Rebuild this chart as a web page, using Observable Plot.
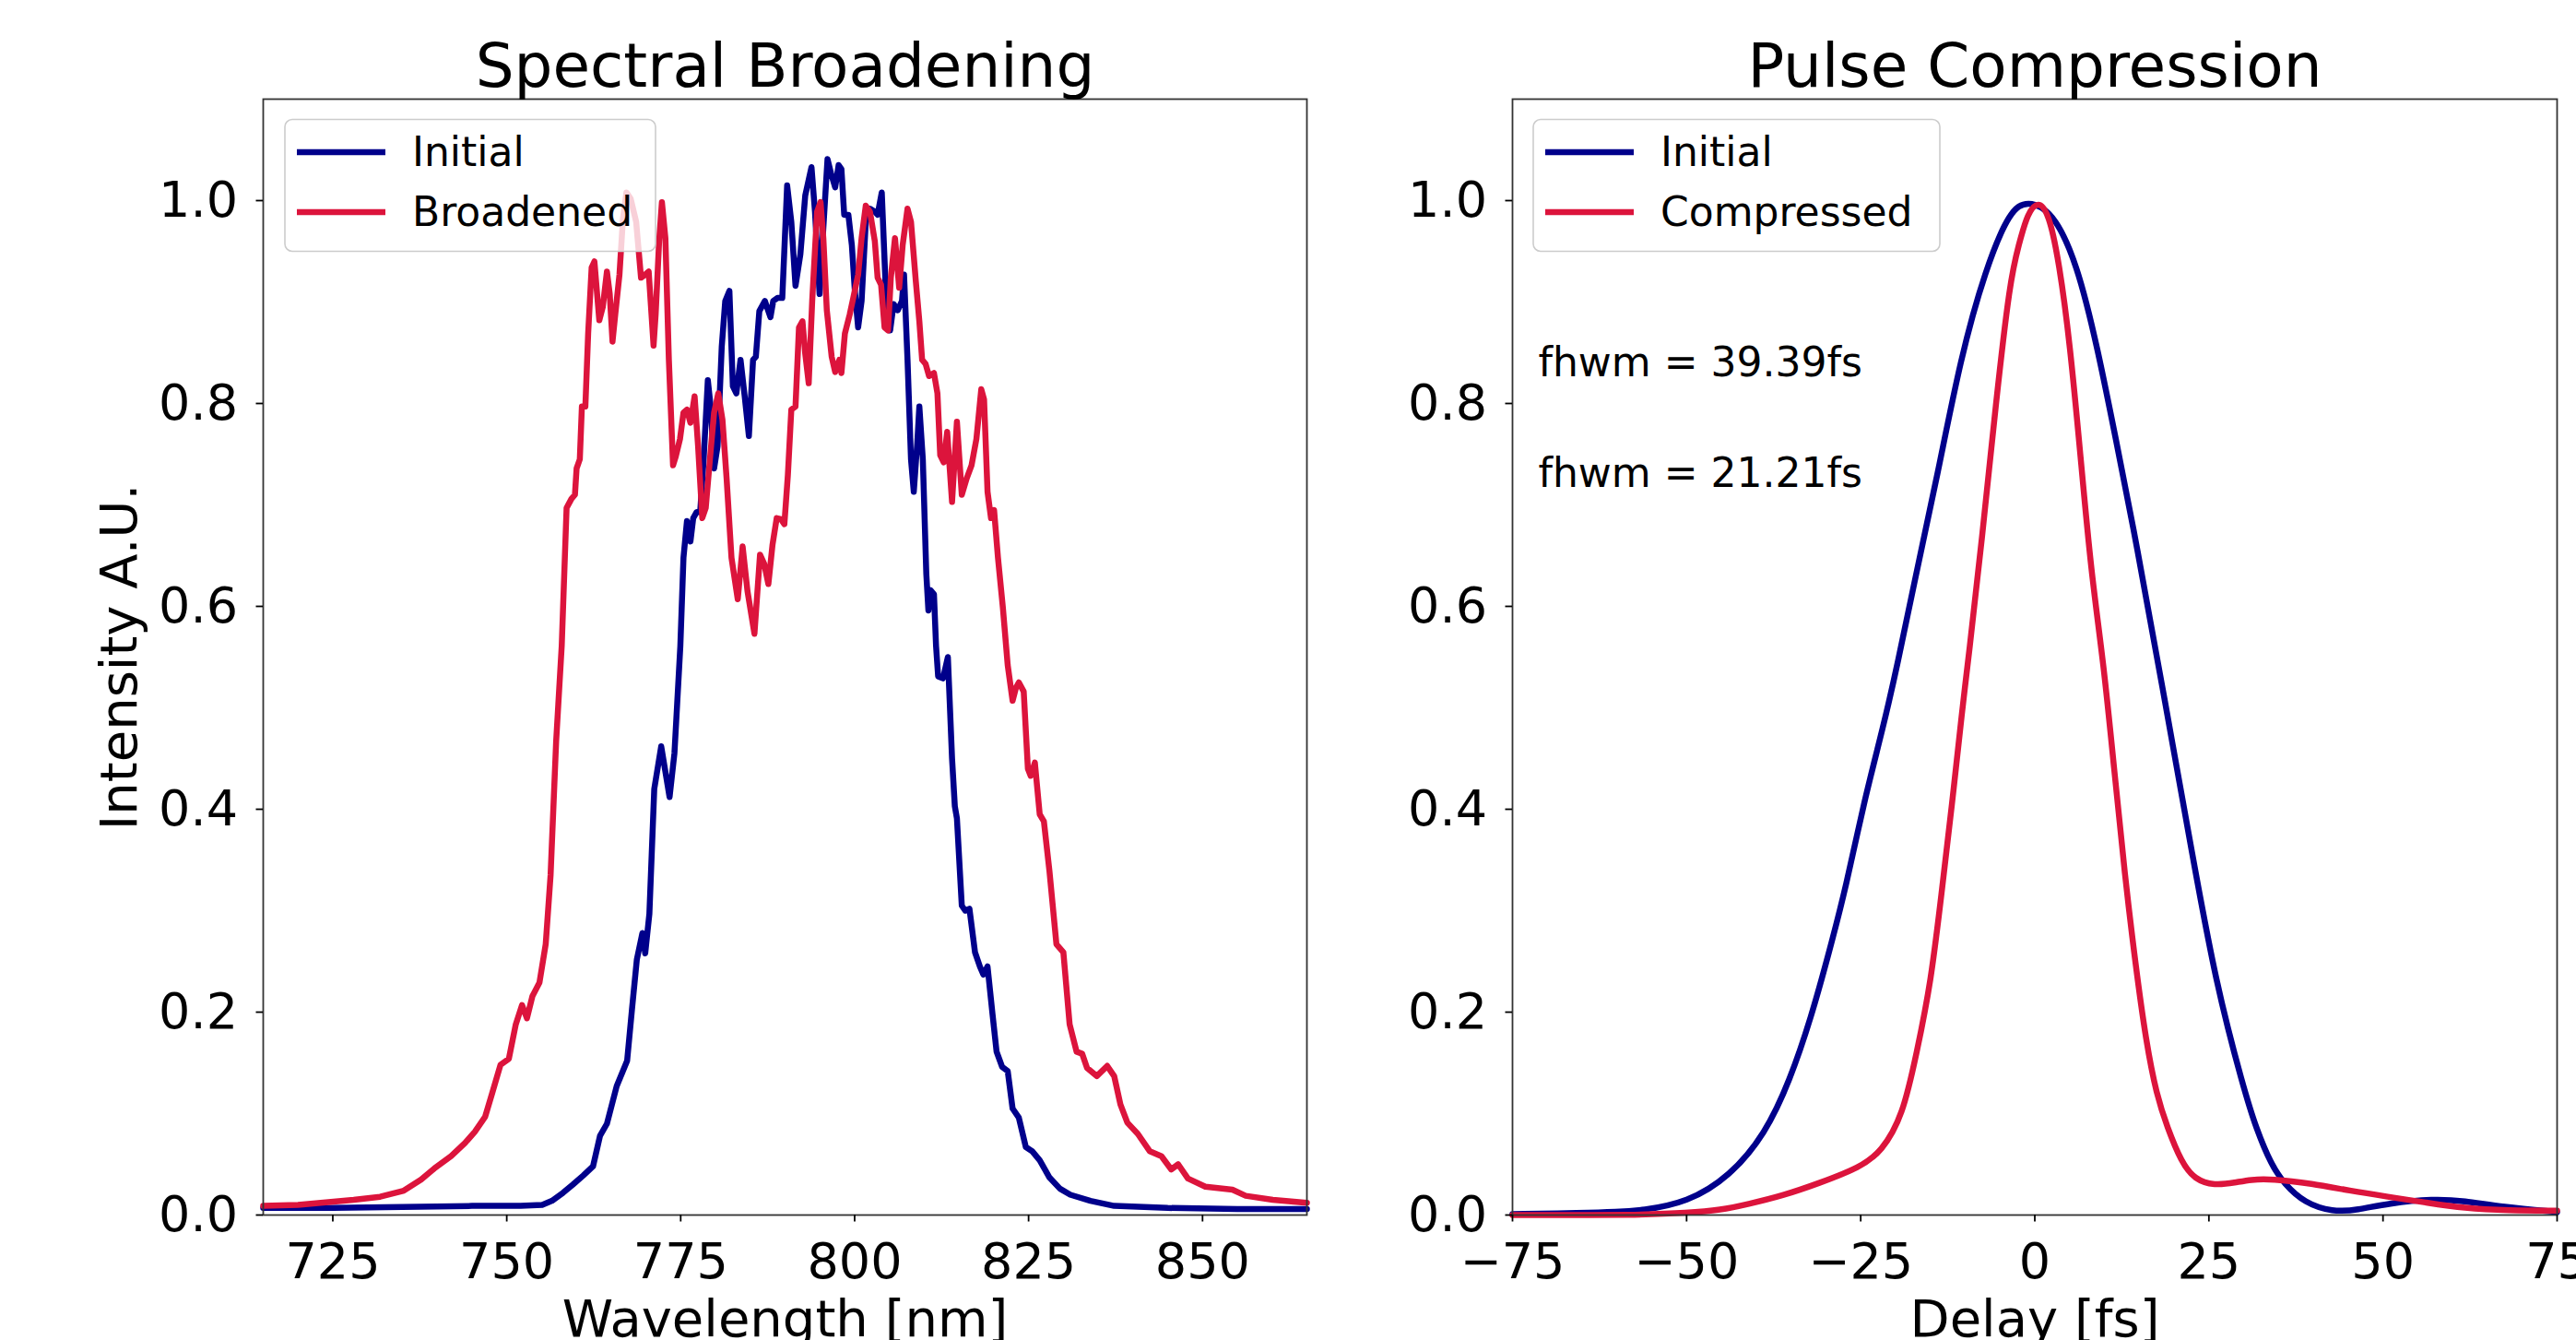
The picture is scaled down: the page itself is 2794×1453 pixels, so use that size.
<!DOCTYPE html>
<html>
<head>
<meta charset="utf-8">
<script src="https://cdn.jsdelivr.net/npm/d3@7"></script>
<script src="https://cdn.jsdelivr.net/npm/@observablehq/plot@0.6"></script>
<style>
  html, body { margin: 0; padding: 0; background: white; overflow: hidden; }
  #page { position: relative; width: 2794px; height: 1453px; background: white; font-family: "DejaVu Sans", sans-serif; }
  #page > svg, #page > figure { position: absolute; top: 0; margin: 0; }
</style>
</head>
<body>
<div id="page"></div>
<script>
// ---------------- DATA ----------------
// Left panel: Spectral Broadening (wavelength nm, intensity A.U.)
const initialWavelength = [715, 725, 735, 745, 752, 755.1, 756.5, 758.1, 759.5, 761, 762.4, 763.4, 764.4, 765.8, 767.3, 768.0, 768.7, 769.5, 769.9, 770.5, 771.2, 772.2, 773.4, 774.1, 774.95, 775.4, 775.9, 776.4, 776.8, 777.3, 777.8, 778.3, 778.9, 779.35, 779.8, 780.3, 780.9, 781.4, 782.0, 782.5, 783.0, 783.6, 784.2, 784.8, 785.4, 785.8, 786.3, 787.1, 787.9, 788.3, 788.9, 789.6, 790.3, 790.9, 791.5, 792.2, 792.9, 793.8, 794.3, 794.96, 795.5, 796.1, 796.6, 797.2, 797.7, 798.1, 798.5, 799.1, 799.6, 800.0, 800.5, 801.0, 801.6, 802.2, 802.9, 803.3, 803.9, 804.5, 805.1, 805.6, 806.2, 806.8, 807.1, 807.6, 808.1, 808.5, 809.0, 809.3, 809.8, 810.3, 810.6, 810.9, 811.4, 811.7, 812.0, 812.7, 813.4, 814.0, 814.4, 814.7, 815.4, 815.9, 816.5, 817.3, 818.0, 818.5, 819.1, 819.8, 820.4, 821.2, 822.0, 822.7, 823.6, 824.6, 825.5, 826.6, 828.0, 829.5, 831.0, 833.9, 837.3, 845, 855, 865];
const initialIntensity = [0.007, 0.007, 0.008, 0.009, 0.009, 0.010, 0.014, 0.022, 0.030, 0.039, 0.048, 0.078, 0.090, 0.127, 0.152, 0.203, 0.252, 0.278, 0.258, 0.297, 0.420, 0.462, 0.412, 0.455, 0.561, 0.648, 0.684, 0.664, 0.687, 0.693, 0.693, 0.745, 0.823, 0.794, 0.736, 0.758, 0.856, 0.901, 0.911, 0.817, 0.810, 0.843, 0.807, 0.768, 0.843, 0.846, 0.891, 0.901, 0.885, 0.901, 0.904, 0.904, 1.015, 0.979, 0.916, 0.947, 1.005, 1.033, 0.989, 0.908, 0.973, 1.041, 1.027, 1.013, 1.035, 1.031, 0.986, 0.986, 0.956, 0.914, 0.875, 0.901, 0.979, 0.992, 0.989, 0.986, 1.008, 0.908, 0.872, 0.898, 0.892, 0.901, 0.927, 0.843, 0.745, 0.713, 0.761, 0.797, 0.745, 0.632, 0.596, 0.616, 0.612, 0.561, 0.531, 0.529, 0.550, 0.450, 0.403, 0.391, 0.305, 0.300, 0.302, 0.259, 0.245, 0.237, 0.245, 0.199, 0.161, 0.146, 0.142, 0.105, 0.096, 0.067, 0.063, 0.054, 0.037, 0.026, 0.020, 0.014, 0.009, 0.007, 0.006, 0.006];

const broadenedWavelength = [715, 720, 724, 728, 731.8, 735.2, 737.7, 739.6, 742.0, 744.0, 745.4, 746.9, 747.9, 749.1, 750.3, 751.3, 752.2, 752.9, 753.7, 754.7, 755.6, 756.3, 757.1, 757.9, 758.6, 759.3, 759.8, 760.04, 760.5, 760.8, 761.3, 761.7, 762.2, 762.6, 763.3, 763.8, 764.4, 764.8, 765.2, 765.6, 766.2, 766.7, 767.2, 767.8, 768.6, 769.3, 769.9, 770.4, 771.1, 771.4, 771.9, 772.3, 772.8, 773.3, 773.9, 774.3, 774.9, 775.4, 775.9, 776.4, 777.0, 777.5, 778.1, 778.6, 779.2, 779.8, 780.4, 781.0, 781.6, 782.3, 783.2, 783.9, 784.6, 785.6, 786.4, 787.0, 787.6, 788.2, 788.8, 789.4, 789.9, 790.4, 790.9, 791.5, 792.0, 792.5, 792.9, 793.4, 793.9, 794.6, 795.1, 795.5, 796.0, 796.7, 797.2, 797.8, 798.1, 798.6, 799.3, 799.8, 800.5, 801.0, 801.6, 802.2, 802.9, 803.3, 803.8, 804.3, 804.8, 805.2, 805.8, 806.4, 806.9, 807.6, 808.1, 808.8, 809.3, 809.7, 810.2, 810.7, 811.4, 811.9, 812.3, 812.8, 813.3, 814.0, 814.7, 815.4, 816.1, 816.8, 817.5, 818.2, 818.6, 819.1, 819.6, 820.04, 820.6, 821.3, 822.0, 822.7, 823.2, 823.6, 824.3, 824.9, 825.3, 825.9, 826.6, 827.2, 828.0, 829.0, 830.0, 830.9, 831.9, 832.7, 833.4, 834.8, 836.3, 837.3, 838.2, 839.2, 840.7, 842.4, 844.1, 845.5, 846.5, 847.9, 850.4, 854.3, 856.2, 860.1, 865];
const broadenedIntensity = [0.009, 0.010, 0.0125, 0.015, 0.018, 0.024, 0.035, 0.046, 0.058, 0.071, 0.082, 0.097, 0.120, 0.148, 0.154, 0.188, 0.207, 0.194, 0.216, 0.229, 0.267, 0.335, 0.467, 0.561, 0.697, 0.706, 0.710, 0.736, 0.745, 0.797, 0.797, 0.869, 0.934, 0.940, 0.882, 0.895, 0.930, 0.908, 0.861, 0.888, 0.927, 0.982, 1.008, 1.002, 0.979, 0.924, 0.927, 0.930, 0.857, 0.888, 0.960, 0.9985, 0.963, 0.843, 0.739, 0.748, 0.765, 0.791, 0.794, 0.781, 0.807, 0.758, 0.687, 0.697, 0.745, 0.791, 0.810, 0.784, 0.726, 0.648, 0.607, 0.659, 0.615, 0.573, 0.651, 0.642, 0.622, 0.661, 0.687, 0.686, 0.681, 0.729, 0.794, 0.797, 0.875, 0.881, 0.849, 0.820, 0.901, 0.989, 0.9985, 0.963, 0.892, 0.846, 0.831, 0.843, 0.830, 0.869, 0.888, 0.904, 0.927, 0.963, 0.995, 0.989, 0.960, 0.924, 0.917, 0.875, 0.872, 0.924, 0.963, 0.914, 0.956, 0.992, 0.979, 0.920, 0.881, 0.843, 0.839, 0.827, 0.830, 0.810, 0.749, 0.742, 0.772, 0.703, 0.782, 0.710, 0.726, 0.739, 0.765, 0.814, 0.804, 0.713, 0.687, 0.695, 0.648, 0.599, 0.542, 0.507, 0.520, 0.525, 0.516, 0.440, 0.433, 0.446, 0.395, 0.388, 0.339, 0.267, 0.259, 0.188, 0.161, 0.159, 0.145, 0.137, 0.147, 0.137, 0.109, 0.091, 0.080, 0.063, 0.058, 0.045, 0.050, 0.036, 0.028, 0.025, 0.019, 0.015, 0.012];

// Right panel: Pulse Compression (delay fs, intensity)
const initialDelay = [-75, -65, -60, -56.5, -49.9, -43.8, -38.7, -35.2, -32.1, -29.6, -27.1, -24.55, -21.8, -19.7, -17.24, -13.95, -10.66, -7.11, -3.56, -1.03, 2.51, 6.06, 9.1, 11.63, 14.16, 16.7, 18.47, 19.5, 22.5, 26.0, 30.0, 31.8, 34.0, 35.8, 38.7, 42.8, 46.3, 50.7, 57.3, 61.6, 67.1, 75];
const initialPulse = [0.001, 0.002, 0.003, 0.0045, 0.0123, 0.038, 0.080, 0.132, 0.195, 0.2575, 0.3235, 0.407, 0.480, 0.543, 0.626, 0.730, 0.845, 0.932, 0.991, 1.000, 0.990, 0.939, 0.852, 0.765, 0.678, 0.581, 0.515, 0.475, 0.360, 0.228, 0.1245, 0.085, 0.049, 0.031, 0.012, 0.003, 0.005, 0.0115, 0.016, 0.014, 0.008, 0.003];

const compressedDelay = [-75, -56.5, -50, -45, -41.3, -36.2, -31.1, -25.05, -22.0, -18.97, -16.95, -14.9, -13.4, -11.9, -10.4, -9.5, -7.6, -5.6, -3.56, -2.3, -1.03, 0.49, 2.0, 3.5, 5.05, 6.57, 8.09, 9.9, 11.42, 12.94, 14.46, 15.98, 17.5, 19.0, 21.05, 22.97, 25.8, 28.8, 31.0, 34.0, 39.8, 45.2, 50.7, 56.1, 61.6, 68.2, 75];
const compressedPulse = [0.0, 0.0, 0.002, 0.005, 0.0105, 0.019, 0.031, 0.047, 0.0626, 0.0975, 0.160, 0.230, 0.317, 0.4035, 0.500, 0.550, 0.665, 0.800, 0.922, 0.9565, 0.988, 1.000, 0.988, 0.939, 0.859, 0.748, 0.633, 0.543, 0.438, 0.334, 0.247, 0.1705, 0.118, 0.087, 0.052, 0.035, 0.029, 0.032, 0.035, 0.0357, 0.031, 0.024, 0.018, 0.0124, 0.0066, 0.0044, 0.0044];

// Annotations (right panel, data coordinates)
const annotationText = ["fhwm = 39.39fs", "fhwm = 21.21fs"];
const annotationDelay = [-71.3, -71.3];
const annotationValue = [0.8265, 0.7175];

// Ticks and labels
const wavelengthTicks = [725, 750, 775, 800, 825, 850];
const delayTicks = [-75, -50, -25, 0, 25, 50, 75];
const intensityTicks = [0, 0.2, 0.4, 0.6, 0.8, 1.0];
const titles = ["Spectral Broadening", "Pulse Compression"];
const xLabels = ["Wavelength [nm]", "Delay [fs]"];
const yLabel = "Intensity A.U.";
const leftLegend = ["Initial", "Broadened"];
const rightLegend = ["Initial", "Compressed"];

// ---------------- STYLE ----------------
const BLUE = "#00008b";
const RED = "#dc143c";
const LW = 6.5;
const FONT = "DejaVu Sans";

const toRows = (xs, ys) => xs.map((x, i) => ({x, y: ys[i]}));
const specInit = toRows(initialWavelength, initialIntensity);
const specBroad = toRows(broadenedWavelength, broadenedIntensity);
const pulseInit = toRows(initialDelay, initialPulse);
const pulseComp = toRows(compressedDelay, compressedPulse);
const annotations = annotationText.map((t, i) => ({t, x: annotationDelay[i], y: annotationValue[i]}));

const svgStyle = {fontFamily: FONT, overflow: "visible", maxWidth: "none", background: "transparent", display: "block"};

function commonMarks(xTicks, title, xLabel) {
  return [
    Plot.frame({stroke: "#333", strokeWidth: 1.8}),
    Plot.axisX({ticks: xTicks, tickSize: 7.5, tickPadding: 23, fontSize: 54, strokeWidth: 1.8, label: null}),
    Plot.axisY({ticks: intensityTicks, tickSize: 7.5, tickPadding: 20, fontSize: 54, strokeWidth: 1.8, label: null, tickFormat: d3.format(".1f")}),
    Plot.text([title], {text: d => d, frameAnchor: "top", dy: -14, lineAnchor: "bottom", textAnchor: "middle", fontSize: 66}),
    Plot.text([xLabel], {text: d => d, frameAnchor: "bottom", dy: 131, lineAnchor: "bottom", textAnchor: "middle", fontSize: 56})
  ];
}

const left = Plot.plot({
  width: 1440, height: 1453,
  marginLeft: 285, marginRight: 23, marginTop: 107, marginBottom: 136,
  x: {domain: [715, 865]},
  y: {domain: [0, 1.1]},
  style: svgStyle,
  marks: [
    Plot.line(specInit, {x: "x", y: "y", stroke: BLUE, strokeWidth: LW}),
    Plot.line(specBroad, {x: "x", y: "y", stroke: RED, strokeWidth: LW}),
    ...commonMarks(wavelengthTicks, titles[0], xLabels[0]),
    Plot.text([yLabel], {text: d => d, frameAnchor: "left", dx: -138, rotate: -90, lineAnchor: "bottom", textAnchor: "middle", fontSize: 56})
  ]
});

const right = Plot.plot({
  width: 1354, height: 1453,
  marginLeft: 200, marginRight: 21, marginTop: 107, marginBottom: 136,
  x: {domain: [-75, 75]},
  y: {domain: [0, 1.1]},
  style: svgStyle,
  marks: [
    Plot.line(pulseInit, {x: "x", y: "y", stroke: BLUE, strokeWidth: LW, curve: "basis"}),
    Plot.line(pulseComp, {x: "x", y: "y", stroke: RED, strokeWidth: LW, curve: "basis"}),
    ...commonMarks(delayTicks, titles[1], xLabels[1]),
    Plot.text(annotations, {x: "x", y: "y", text: "t", textAnchor: "start", lineAnchor: "bottom", fontSize: 44})
  ]
});

const page = document.getElementById("page");
left.style.left = "0px";
right.style.left = "1440px";
page.appendChild(left);
page.appendChild(right);

// ---------------- LEGENDS (overlay) ----------------
const overlay = d3.select(page).append("svg")
  .attr("width", 2794).attr("height", 1453)
  .style("position", "absolute").style("left", "0px").style("top", "0px")
  .style("pointer-events", "none")
  .attr("font-family", FONT);

function legend(x, y, w, h, labels) {
  const g = overlay.append("g");
  g.append("rect").attr("x", x).attr("y", y).attr("width", w).attr("height", h)
    .attr("rx", 8).attr("fill", "white").attr("fill-opacity", 0.8)
    .attr("stroke", "#cccccc").attr("stroke-width", 1.6);
  const colors = [BLUE, RED];
  labels.forEach((lab, i) => {
    const cy = y + 35.5 + i * 65;
    g.append("line").attr("x1", x + 13).attr("x2", x + 109).attr("y1", cy).attr("y2", cy)
      .attr("stroke", colors[i]).attr("stroke-width", LW);
    g.append("text").attr("x", x + 138).attr("y", cy + 15).attr("font-size", 44).attr("fill", "black").text(lab);
  });
}
legend(309, 129.5, 402, 143, leftLegend);
legend(1663, 129.5, 441, 143, rightLegend);
</script>
</body>
</html>
